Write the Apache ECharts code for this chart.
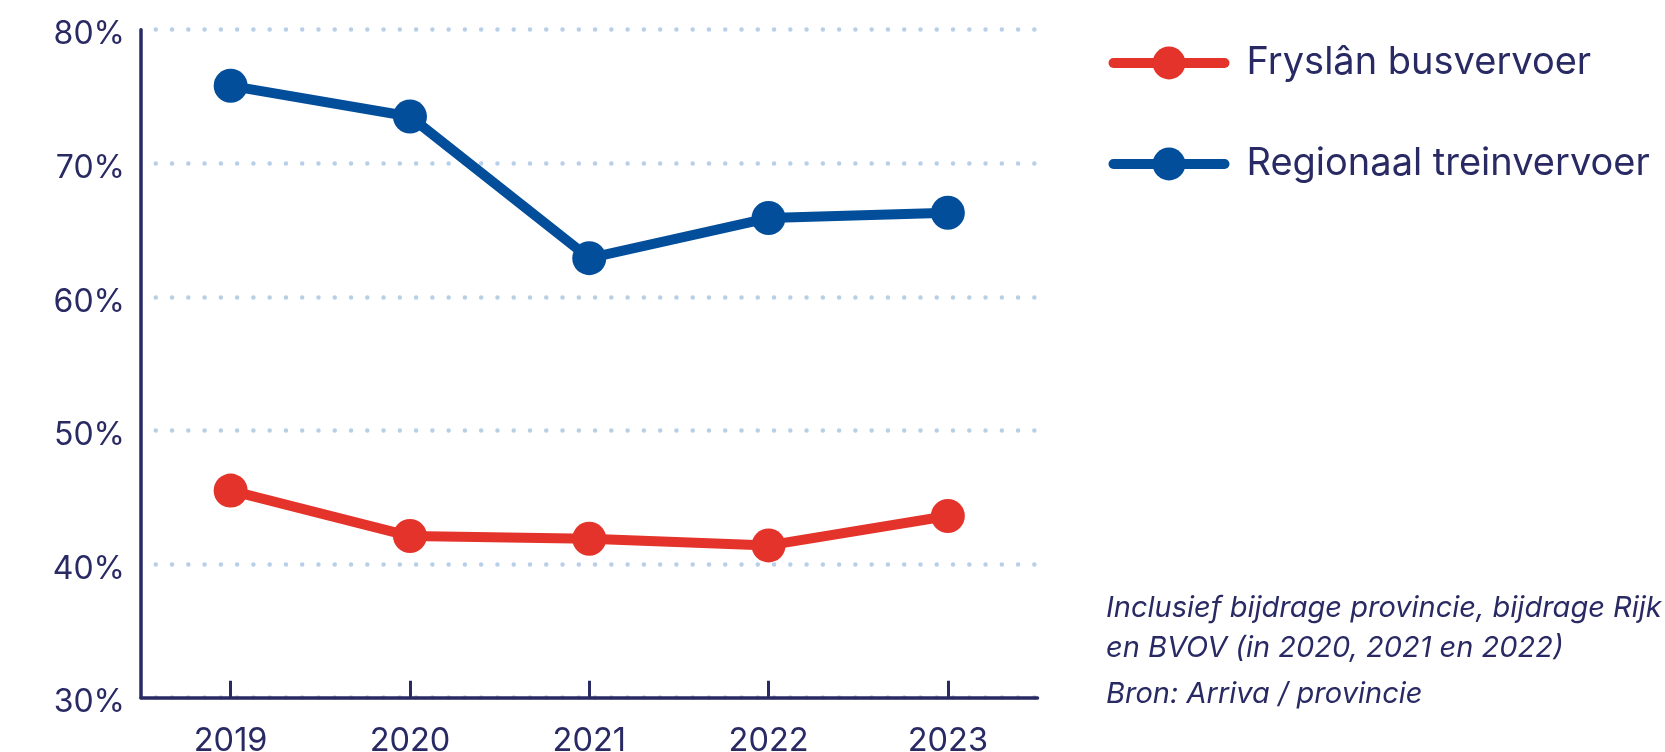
<!DOCTYPE html>
<html>
<head>
<meta charset="utf-8">
<title>Kostendekkingsgraad</title>
<script src="https://cdn.jsdelivr.net/npm/echarts@6/dist/echarts.min.js"></script>
<style>
  html, body { margin: 0; padding: 0; background: #ffffff; }
  #chart { width: 1665px; height: 752px; }
</style>
</head>
<body>
<div id="chart"></div>
<script>
// Years on the horizontal axis
const years = ['2019', '2020', '2021', '2022', '2023'];

// Share of costs covered by revenue, in percent
const busFryslan = [45.5, 42.1, 41.9, 41.4, 43.6];
const treinRegionaal = [75.8, 73.5, 62.9, 65.9, 66.3];

const seriesNames = ['Fryslân busvervoer', 'Regionaal treinvervoer'];

const noteLines = [
  'Inclusief bijdrage provincie, bijdrage Rijk',
  'en BVOV (in 2020, 2021 en 2022)',
  'Bron: Arriva / provincie'
];

const NAVY = '#292a63';
const RED = '#e4332a';
const BLUE = '#024e9b';
const GRID_DOT = '#b7cfe7';
const FONT = 'Inter, "Liberation Sans", Arial, sans-serif';

const chart = echarts.init(document.getElementById('chart'), null, { renderer: 'canvas' });

const noteY = [608.5, 648, 694.5];

chart.setOption({
  animation: false,
  backgroundColor: '#ffffff',
  textStyle: { fontFamily: FONT, color: NAVY },
  grid: {
    left: 141, right: 627.5, top: 29.7, bottom: 54.3,
    containLabel: false,
    outerBoundsMode: 'none'
  },
  legend: {
    orient: 'vertical',
    left: 1103.5,
    top: 39,
    itemWidth: 111,
    itemHeight: 41,
    itemGap: 63,
    lineStyle: { width: 10, cap: 'round' },
    textStyle: { fontFamily: FONT, fontSize: 38, color: NAVY, padding: [0, 0, 0, 17] },
    data: seriesNames
  },
  xAxis: {
    type: 'category',
    data: years,
    boundaryGap: true,
    axisLine: { lineStyle: { color: NAVY, width: 3.5, cap: 'round' } },
    axisTick: { show: true, alignWithLabel: true, inside: true, length: 17, lineStyle: { color: NAVY, width: 3 } },
    axisLabel: { color: NAVY, fontSize: 32.5, fontFamily: FONT, margin: 27 },
    splitLine: { show: false }
  },
  yAxis: {
    type: 'value',
    min: 30,
    max: 80,
    interval: 10,
    axisLine: { show: true, lineStyle: { color: NAVY, width: 3.5 } },
    axisTick: { show: false },
    axisLabel: {
      color: NAVY, fontSize: 32, fontFamily: FONT, margin: 16,
      formatter: '{value}%',
      verticalAlign: 'top',
      lineHeight: 10
    },
    splitLine: {
      show: true,
      lineStyle: { color: GRID_DOT, width: 4.5, type: [0.01, 16.26], dashOffset: 1.5, cap: 'round' }
    }
  },
  series: [
    {
      name: seriesNames[0],
      type: 'line',
      data: busFryslan,
      symbol: 'circle',
      symbolSize: 34,
      color: RED,
      lineStyle: { width: 10, color: RED },
      itemStyle: { color: RED },
      z: 3
    },
    {
      name: seriesNames[1],
      type: 'line',
      data: treinRegionaal,
      symbol: 'circle',
      symbolSize: 34,
      color: BLUE,
      lineStyle: { width: 10, color: BLUE },
      itemStyle: { color: BLUE },
      z: 3
    }
  ],
  graphic: noteLines.map((line, i) => ({
    type: 'text',
    x: 1106,
    y: noteY[i],
    style: {
      text: line,
      fill: NAVY,
      font: 'italic 29px ' + FONT,
      verticalAlign: 'middle'
    }
  }))
});
</script>
</body>
</html>
